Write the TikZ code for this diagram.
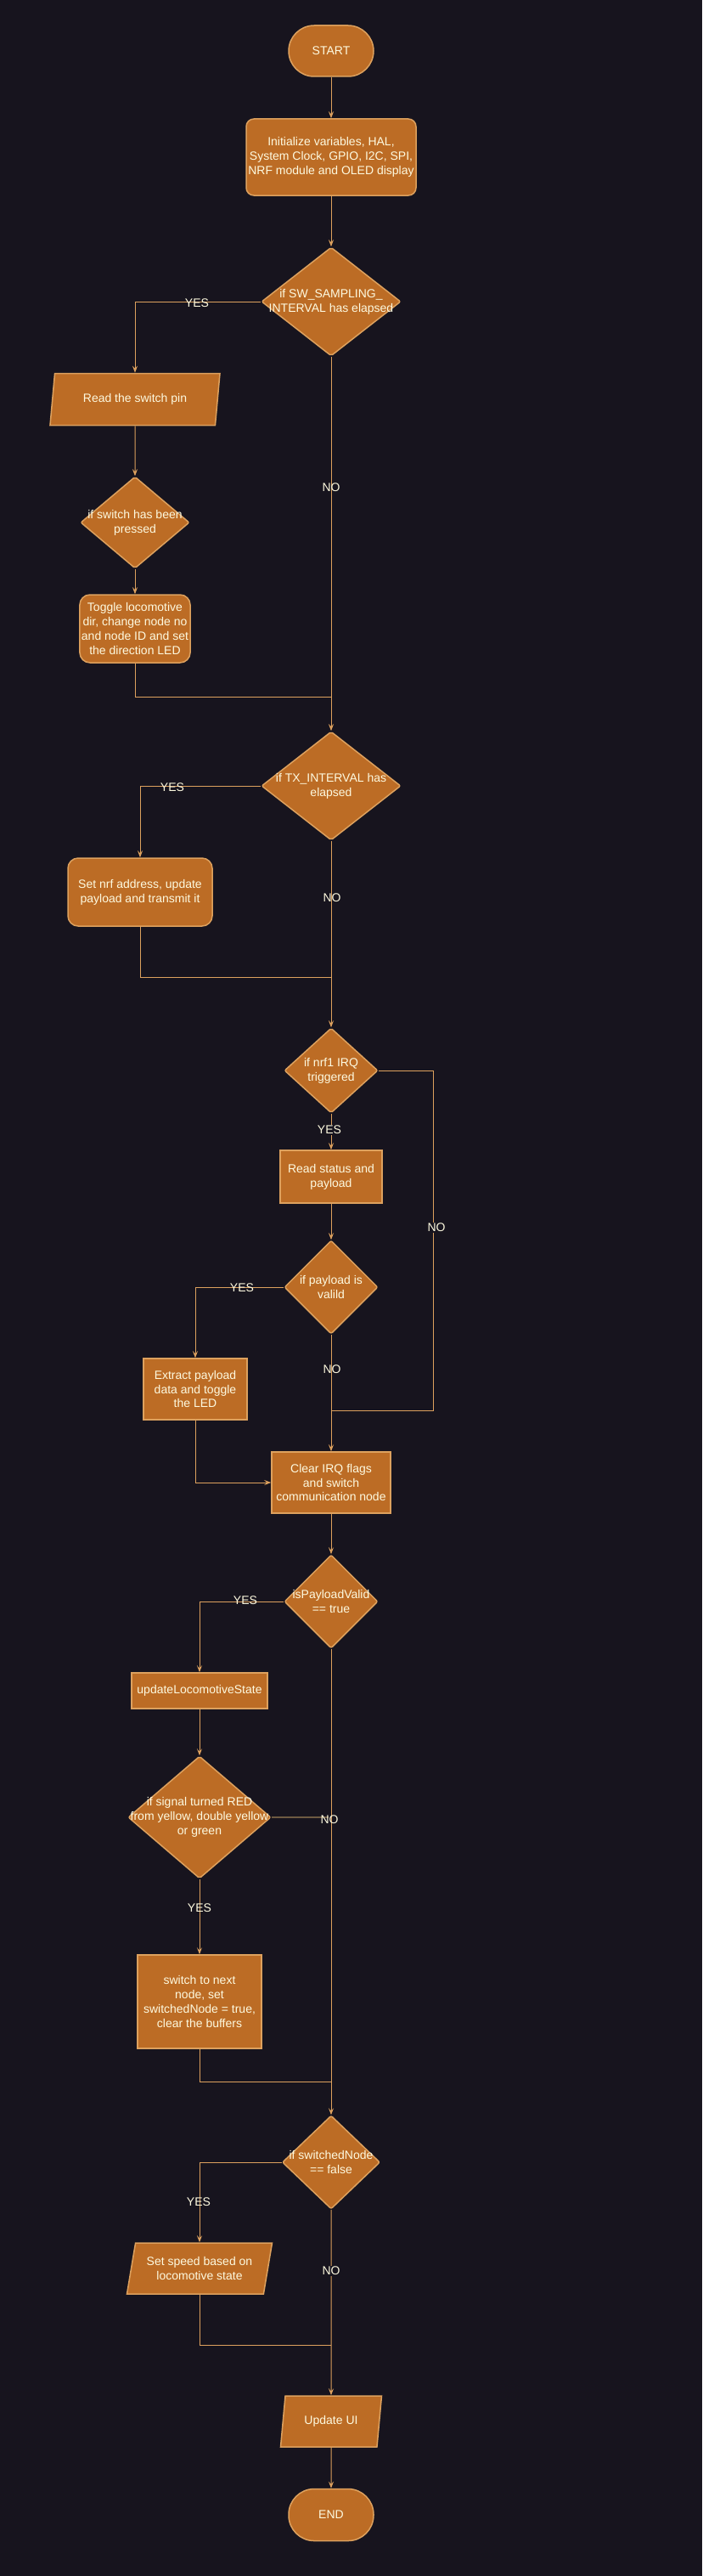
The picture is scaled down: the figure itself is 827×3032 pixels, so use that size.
\documentclass[tikz,border=0pt]{standalone}
\usepackage{fontspec}
\setmainfont{Liberation Sans}
\usetikzlibrary{shapes.geometric,arrows.meta}
\definecolor{bgc}{HTML}{17141E}
\definecolor{fillc}{HTML}{BC6C25}
\definecolor{strokec}{HTML}{DDA15E}
\definecolor{txtc}{HTML}{FEFAE0}
\definecolor{darkln}{HTML}{6E5A42}
\begin{document}
\begin{tikzpicture}[x=1pt,y=-1pt,
  every node/.style={font=\fontsize{14}{16.8}\selectfont, text=txtc},
  basebox/.style={draw=strokec, fill=fillc, line width=1.5pt, align=center, inner sep=2pt},
  termbox/.style={basebox, rounded corners=30pt, minimum width=100pt, minimum height=60pt},
  procbox/.style={basebox},
  decbox/.style={shape=diamond, draw=strokec, fill=fillc, line width=1.5pt, inner sep=0pt, rounded corners=2pt},
  iobox/.style={basebox, trapezium, trapezium left angle=72, trapezium right angle=108, trapezium stretches body=true},
  dtxt/.style={align=center, inner sep=0pt, text=txtc},
  lbl/.style={inner sep=1pt, text=txtc},
  lblbg/.style={lbl, fill=bgc},
  conn/.style={draw=strokec, line width=1pt},
  arr/.style={conn, -{Stealth[length=8pt,width=6pt,inset=3pt]}},
  darkconn/.style={draw=darkln, line width=2pt}
]
\useasboundingbox[fill=bgc] (0,0) rectangle (827,3032);

% nodes
\node[termbox] (start) at (390,60) {START};
\node[procbox, rounded corners=9pt, minimum width=200pt, minimum height=90pt] (init) at (390,185) {Initialize variables, HAL,\\System Clock, GPIO, I2C, SPI,\\NRF module and OLED display};
\node[decbox, minimum width=164pt, minimum height=128pt, label={[dtxt]center:{if SW\_SAMPLING\_\\INTERVAL has elapsed}}] (d1) at (390,355) {};
\node[iobox, minimum width=200pt, minimum height=61pt] (readsw) at (159,470) {Read the switch pin};
\node[decbox, minimum width=128pt, minimum height=108pt, label={[dtxt]center:{if switch has been\\pressed}}] (d2) at (159,615) {};
\node[procbox, rounded corners=12pt, minimum width=130pt, minimum height=80pt] (toggle) at (159,740) {Toggle locomotive\\dir, change node no\\and node ID and set\\the direction LED};
\node[decbox, minimum width=164pt, minimum height=128pt, label={[dtxt]center:{if TX\_INTERVAL has\\elapsed}}] (d3) at (390,925) {};
\node[procbox, rounded corners=12pt, minimum width=170pt, minimum height=80pt] (setnrf) at (165,1050) {Set nrf address, update\\payload and transmit it};
\node[decbox, minimum width=110pt, minimum height=100pt, label={[dtxt]center:{if nrf1 IRQ\\triggered}}] (d4) at (390,1260) {};
\node[procbox, minimum width=120pt, minimum height=62pt] (readst) at (390,1385) {Read status and\\payload};
\node[decbox, minimum width=110pt, minimum height=110pt, label={[dtxt]center:{if payload is\\valild}}] (d5) at (390,1515) {};
\node[procbox, minimum width=122pt, minimum height=72pt] (extract) at (230,1635) {Extract payload\\data and toggle\\the LED};
\node[procbox, minimum width=140pt, minimum height=72pt] (clear) at (390,1745) {Clear IRQ flags\\and switch\\communication node};
\node[decbox, minimum width=110pt, minimum height=110pt, label={[dtxt]center:{isPayloadValid\\== true}}] (d6) at (390,1885) {};
\node[procbox, minimum width=160pt, minimum height=42pt] (upd) at (235,1990) {updateLocomotiveState};
\node[decbox, minimum width=168pt, minimum height=144pt, label={[dtxt]center:{if signal turned RED\\from yellow, double yellow\\or green}}] (d7) at (235,2139) {};
\node[procbox, minimum width=146pt, minimum height=110pt] (switch) at (235,2356) {switch to next\\node, set\\switchedNode = true,\\clear the buffers};
\node[decbox, minimum width=115pt, minimum height=110pt, label={[dtxt]center:{if switchedNode\\== false}}] (d8) at (390,2545) {};
\node[iobox, minimum width=171pt, minimum height=60pt] (speed) at (235,2670) {Set speed based on\\locomotive state};
\node[iobox, minimum width=119pt, minimum height=60pt] (updui) at (390,2850) {Update UI};
\node[termbox, minimum height=61pt] (end) at (390,2960) {END};

% junctions
\coordinate (j1) at (390,820);
\coordinate (j2) at (390,1150);
\coordinate (j3a) at (510.5,1260);
\coordinate (j3) at (390,1660);
\coordinate (j7) at (387,2139);
\coordinate (j8) at (390,2450);
\coordinate (j9) at (390,2760);

% connectors
\draw[arr] (start.south) -- (init.north);
\draw[arr] (init.south) -- (d1.north);
\draw[arr] (d1.west) -| (readsw.north);
\draw[arr] (readsw.south) -- (d2.north);
\draw[arr] (d2.south) -- (toggle.north);
\draw[conn] (toggle.south) |- (j1);
\draw[arr] (d1.south) -- (d3.north);
\draw[arr] (d3.west) -| (setnrf.north);
\draw[conn] (setnrf.south) |- (j2);
\draw[arr] (d3.south) -- (d4.north);
\draw[conn] (d4.east) -- (j3a) |- (j3);
\draw[arr] (d4.south) -- (readst.north);
\draw[arr] (readst.south) -- (d5.north);
\draw[arr] (d5.west) -| (extract.north);
\draw[arr] (d5.south) -- (clear.north);
\draw[arr] (extract.south) |- (clear.west);
\draw[arr] (clear.south) -- (d6.north);
\draw[arr] (d6.west) -| (upd.north);
\draw[arr] (upd.south) -- (d7.north);
\draw[arr] (d7.south) -- (switch.north);
\draw[darkconn] (d7.east) -- (j7);
\draw[arr] (d6.south) -- (d8.north);
\draw[conn] (switch.south) |- (j8);
\draw[arr] (d8.west) -| (speed.north);
\draw[conn] (speed.south) |- (j9);
\draw[arr] (d8.south) -- (updui.north);
\draw[arr] (updui.south) -- (end.north);

% labels
\node[lbl] (l1) at (232,357) {YES};
\node[lbl] (l2) at (390,574) {NO};
\node[lbl] (l3) at (203,927) {YES};
\node[lbl] (l4) at (391,1057) {NO};
\node[lblbg] (l5) at (388,1330) {YES};
\node[lblbg] (l6) at (514,1445) {NO};
\node[lbl] (l7) at (285,1516) {YES};
\node[lbl] (l8) at (391,1612) {NO};
\node[lbl] (l9) at (289,1884) {YES};
\node[lbl] (l10) at (388,2142) {NO};
\node[lbl] (l11) at (235,2246) {YES};
\node[lbl] (l12) at (234,2592) {YES};
\node[lblbg] (l13) at (390,2673) {NO};
\end{tikzpicture}
\end{document}
